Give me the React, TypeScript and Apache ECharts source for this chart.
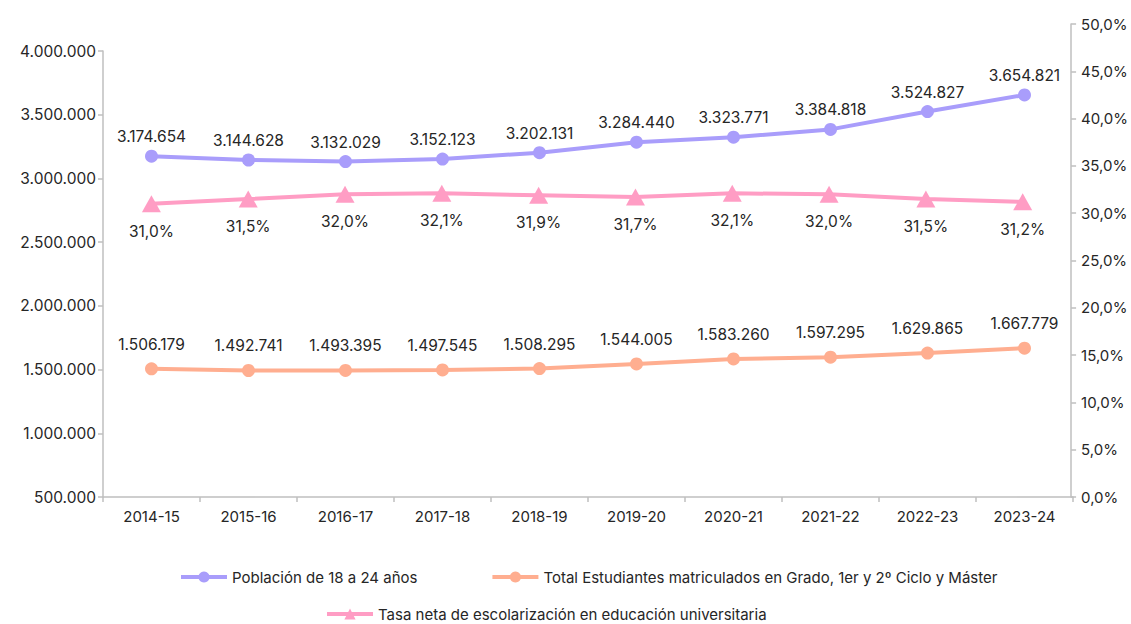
import React, { useEffect, useRef } from "react";
import * as echarts from "echarts";

const categories = ["2014-15", "2015-16", "2016-17", "2017-18", "2018-19", "2019-20", "2020-21", "2021-22", "2022-23", "2023-24"];
const poblacion = [3174654, 3144628, 3132029, 3152123, 3202131, 3284440, 3323771, 3384818, 3524827, 3654821];
const estudiantes = [1506179, 1492741, 1493395, 1497545, 1508295, 1544005, 1583260, 1597295, 1629865, 1667779];
const tasa = [31.0, 31.5, 32.0, 32.1, 31.9, 31.7, 32.1, 32.0, 31.5, 31.2];

const nameP = "Población de 18 a 24 años";
const nameE = "Total Estudiantes matriculados en Grado, 1er y 2º Ciclo y Máster";
const nameT = "Tasa neta de escolarización en educación universitaria";

const FONT = "Inter";
const TXT = "#262626";
const AX = "#bfbfbf";

const fmtN = (v: number) => Math.round(v).toString().replace(/\B(?=(\d{3})+(?!\d))/g, ".");
const fmtP = (v: number) => v.toFixed(1).replace(".", ",") + "%";

export default function App() {
  const ref = useRef<HTMLDivElement>(null);
  useEffect(() => {
    if (!ref.current) return;
    const chart = echarts.init(ref.current, null, { renderer: "svg" });
    const legendText = { color: TXT, fontSize: 15, fontFamily: FONT, lineHeight: 16 };
    chart.setOption({
      animation: false,
      backgroundColor: "#ffffff",
      grid: [
        { left: 103, right: 58, top: 51, bottom: 127 },
        { left: 103, right: 58, top: 24, bottom: 127 },
      ],
      legend: [
        {
          data: [nameP, nameE],
          left: 179,
          top: 569,
          padding: 0,
          itemWidth: 46,
          itemHeight: 14,
          itemGap: 73,
          lineStyle: { width: 4 },
          textStyle: legendText,
        },
        {
          data: [nameT],
          left: 325,
          top: 606,
          padding: 0,
          itemWidth: 46,
          itemHeight: 14,
          lineStyle: { width: 4 },
          textStyle: legendText,
        },
      ],
      xAxis: [
        {
          type: "category",
          gridIndex: 0,
          data: categories,
          boundaryGap: true,
          axisLine: { lineStyle: { color: AX, width: 1.5 } },
          axisTick: { show: true, length: 5, lineStyle: { color: AX, width: 1.5 } },
          axisLabel: { color: TXT, fontSize: 15, fontFamily: FONT, margin: 12 },
        },
        {
          type: "category",
          gridIndex: 1,
          data: categories,
          boundaryGap: true,
          show: false,
        },
      ],
      yAxis: [
        {
          type: "value",
          gridIndex: 0,
          position: "left",
          min: 500000,
          max: 4000000,
          interval: 500000,
          splitLine: { show: false },
          axisLine: { show: true, lineStyle: { color: AX, width: 1.5 } },
          axisTick: { show: true, length: 5, lineStyle: { color: AX, width: 1.5 } },
          axisLabel: { color: TXT, fontSize: 15.5, fontFamily: FONT, margin: 7, formatter: (v: number) => fmtN(v) },
        },
        {
          type: "value",
          gridIndex: 1,
          position: "right",
          min: 0,
          max: 50,
          interval: 5,
          splitLine: { show: false },
          axisLine: { show: true, lineStyle: { color: AX, width: 1.5 } },
          axisTick: { show: true, length: 5, lineStyle: { color: AX, width: 1.5 } },
          axisLabel: { color: TXT, fontSize: 15, fontFamily: FONT, margin: 10, formatter: (v: number) => fmtP(v) },
        },
      ],
      series: [
        {
          name: nameP,
          type: "line",
          xAxisIndex: 0,
          yAxisIndex: 0,
          data: poblacion,
          symbol: "circle",
          symbolSize: 13,
          itemStyle: { color: "#a99dfb" },
          lineStyle: { color: "#a99dfb", width: 4 },
          label: {
            show: true,
            position: "top",
            distance: 5,
            color: TXT,
            fontSize: 15.5,
            fontFamily: FONT,
            formatter: (p: any) => fmtN(p.value),
          },
        },
        {
          name: nameE,
          type: "line",
          xAxisIndex: 0,
          yAxisIndex: 0,
          data: estudiantes,
          symbol: "circle",
          symbolSize: 13,
          itemStyle: { color: "#ffae90" },
          lineStyle: { color: "#ffae90", width: 4 },
          label: {
            show: true,
            position: "top",
            distance: 10,
            color: TXT,
            fontSize: 15.5,
            fontFamily: FONT,
            formatter: (p: any) => fmtN(p.value),
          },
        },
        {
          name: nameT,
          type: "line",
          xAxisIndex: 1,
          yAxisIndex: 1,
          data: tasa,
          symbol: "triangle",
          symbolSize: [19, 17],
          itemStyle: { color: "#ff9dc4" },
          lineStyle: { color: "#ff9dc4", width: 4 },
          label: {
            show: true,
            position: "bottom",
            distance: 11,
            color: TXT,
            fontSize: 15.5,
            fontFamily: FONT,
            formatter: (p: any) => fmtP(p.value),
          },
        },
      ],
    });
    return () => chart.dispose();
  }, []);
  return <div ref={ref} style={{ width: 1131, height: 624, position: "absolute", left: 0, top: 0 }} />;
}
